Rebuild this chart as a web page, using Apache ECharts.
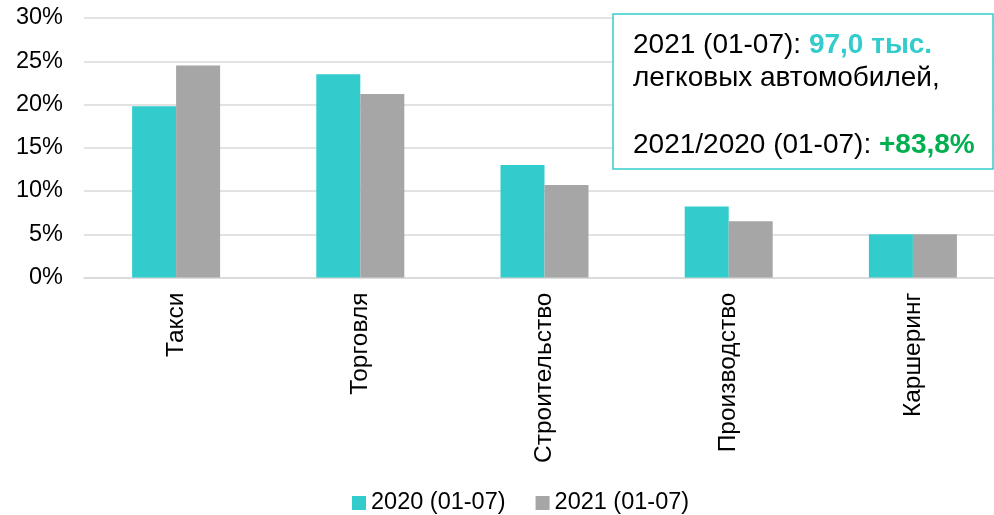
<!DOCTYPE html>
<html>
<head>
<meta charset="utf-8">
<script src="https://cdn.jsdelivr.net/npm/echarts@6/dist/echarts.min.js"></script>
<style>
html,body{margin:0;padding:0;background:#fff;overflow:hidden;}
#chart{width:1010px;height:515px;}
</style>
</head>
<body>
<div id="chart"></div>
<script>
const categories = ['Такси', 'Торговля', 'Строительство', 'Производство', 'Каршеринг'];
const series2020 = [19.8, 23.5, 13.0, 8.2, 5.0];
const series2021 = [24.5, 21.2, 10.7, 6.5, 5.0];
const seriesNames = ['2020 (01-07)', '2021 (01-07)'];
const yTicks = [0, 5, 10, 15, 20, 25, 30];

const FONT = 'Liberation Sans, Arial, sans-serif';
const FS = 23.5;
const chart = echarts.init(document.getElementById('chart'), null, {renderer: 'canvas'});
chart.setOption({
  animation: false,
  backgroundColor: '#ffffff',
  grid: {left: 84, top: 18, width: 921, height: 259.5, containLabel: false},
  legend: {
    data: seriesNames,
    top: 486,
    left: 347,
    itemWidth: 14,
    itemHeight: 14,
    itemGap: 30,
    icon: 'rect',
    textStyle: {fontFamily: FONT, fontSize: FS, color: '#000'}
  },
  xAxis: {
    type: 'category',
    data: categories,
    axisLine: {show: true, lineStyle: {color: '#d9d9d9', width: 1.5}},
    axisTick: {show: false},
    axisLabel: {rotate: 90, margin: 15, fontFamily: FONT, fontSize: 24.5, color: '#000', interval: 0}
  },
  yAxis: {
    type: 'value',
    min: yTicks[0],
    max: yTicks[yTicks.length - 1],
    interval: 5,
    axisLine: {show: false},
    axisTick: {show: false},
    splitLine: {lineStyle: {color: '#d9d9d9', width: 1.5}},
    axisLabel: {formatter: '{value}%', margin: 21, fontFamily: FONT, fontSize: FS, color: '#000'}
  },
  series: [
    {name: seriesNames[0], type: 'bar', data: series2020, barWidth: 44, barGap: '0%', itemStyle: {color: '#33cccc'}},
    {name: seriesNames[1], type: 'bar', data: series2021, barWidth: 44, itemStyle: {color: '#a6a6a6'}}
  ],
  graphic: [
    {
      type: 'rect',
      shape: {x: 613, y: 14, width: 380, height: 155},
      style: {fill: '#ffffff', stroke: '#33cccc', lineWidth: 1.5},
      z: 100
    },
    {
      type: 'text',
      x: 633,
      y: 28.5,
      z: 101,
      style: {
        text: '{n|2021 (01-07): }{t|97,0 тыс.}\n{n|легковых автомобилей,}\n{n| }\n{n|2021/2020 (01-07): }{g|+83,8%}',
        rich: {
          n: {fontFamily: FONT, fontSize: 28, fill: '#000', lineHeight: 33.5},
          t: {fontFamily: FONT, fontSize: 28, fontWeight: 'bold', fill: '#33cccc', lineHeight: 33.5},
          g: {fontFamily: FONT, fontSize: 28, fontWeight: 'bold', fill: '#00b050', lineHeight: 33.5}
        }
      }
    }
  ]
});
</script>
</body>
</html>
